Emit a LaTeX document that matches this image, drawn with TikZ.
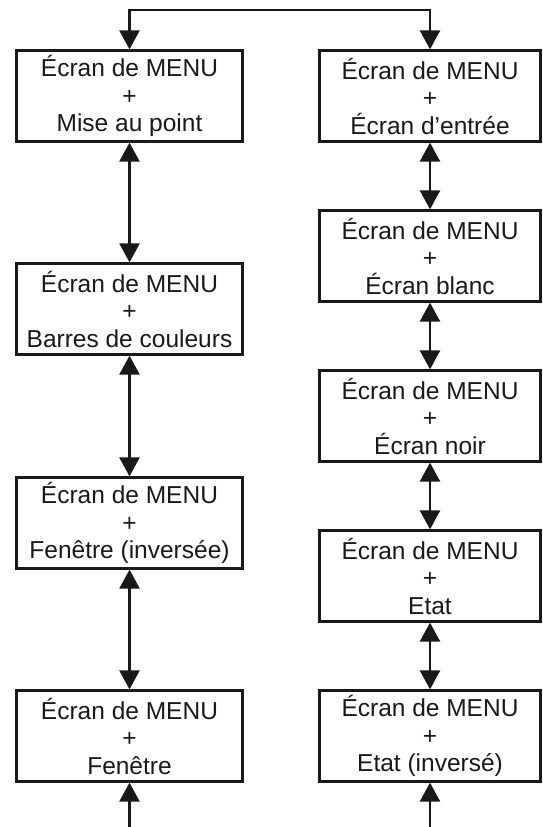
\documentclass[tikz,border=0pt]{standalone}
\usepackage{fontspec}
\setmainfont{Liberation Sans}
\usetikzlibrary{arrows.meta}
\begin{document}
\begin{tikzpicture}[x=1pt,y=-1pt,
  menubox/.style={draw=black!90, line width=2.2pt, align=center, inner sep=0pt,
    minimum height=91pt, font=\fontsize{24.5}{27.5}\selectfont, text=black!90},
  lbox/.style={menubox, minimum width=226pt},
  rbox/.style={menubox, minimum width=221pt},
  conn/.style={draw=black!90, line width=2.3pt, -{Triangle[length=19pt,width=20pt]}},
  dconn/.style={draw=black!90, line width=2.3pt, {Triangle[length=19pt,width=20pt]}-{Triangle[length=19pt,width=20pt]}}]
\useasboundingbox (0,0) rectangle (542,827);
% left column
\node[lbox] (l1) at (129.5,96) {Écran de MENU\\+\\Mise au point};
\node[lbox] (l2) at (129.5,309) {Écran de MENU\\+\\Barres de couleurs};
\node[lbox] (l3) at (129.5,523) {Écran de MENU\\+\\Fenêtre (inversée)};
\node[lbox] (l4) at (129.5,736) {Écran de MENU\\+\\Fenêtre};
% right column
\node[rbox] (r1) at (430,96) {Écran de MENU\\+\\Écran d’entrée};
\node[rbox] (r2) at (430,256) {Écran de MENU\\+\\Écran blanc};
\node[rbox] (r3) at (430,416) {Écran de MENU\\+\\Écran noir};
\node[rbox] (r4) at (430,576) {Écran de MENU\\+\\Etat};
\node[rbox] (r5) at (430,736) {Écran de MENU\\+\\Etat (inversé)};
% top split
\coordinate (tl) at (129.5,10);
\coordinate (tr) at (430,10);
\draw[conn] (tr) -- (tl) -- (l1.north);
\draw[conn] (tl) -- (tr) -- (r1.north);
% double arrows
\draw[dconn] (l1.south) -- (l2.north);
\draw[dconn] (l2.south) -- (l3.north);
\draw[dconn] (l3.south) -- (l4.north);
\draw[dconn] (r1.south) -- (r2.north);
\draw[dconn] (r2.south) -- (r3.north);
\draw[dconn] (r3.south) -- (r4.north);
\draw[dconn] (r4.south) -- (r5.north);
% bottom entries
\coordinate (bl) at (129.5,827);
\coordinate (br) at (430,827);
\draw[conn] (bl) -- (l4.south);
\draw[conn] (br) -- (r5.south);
\end{tikzpicture}
\end{document}
